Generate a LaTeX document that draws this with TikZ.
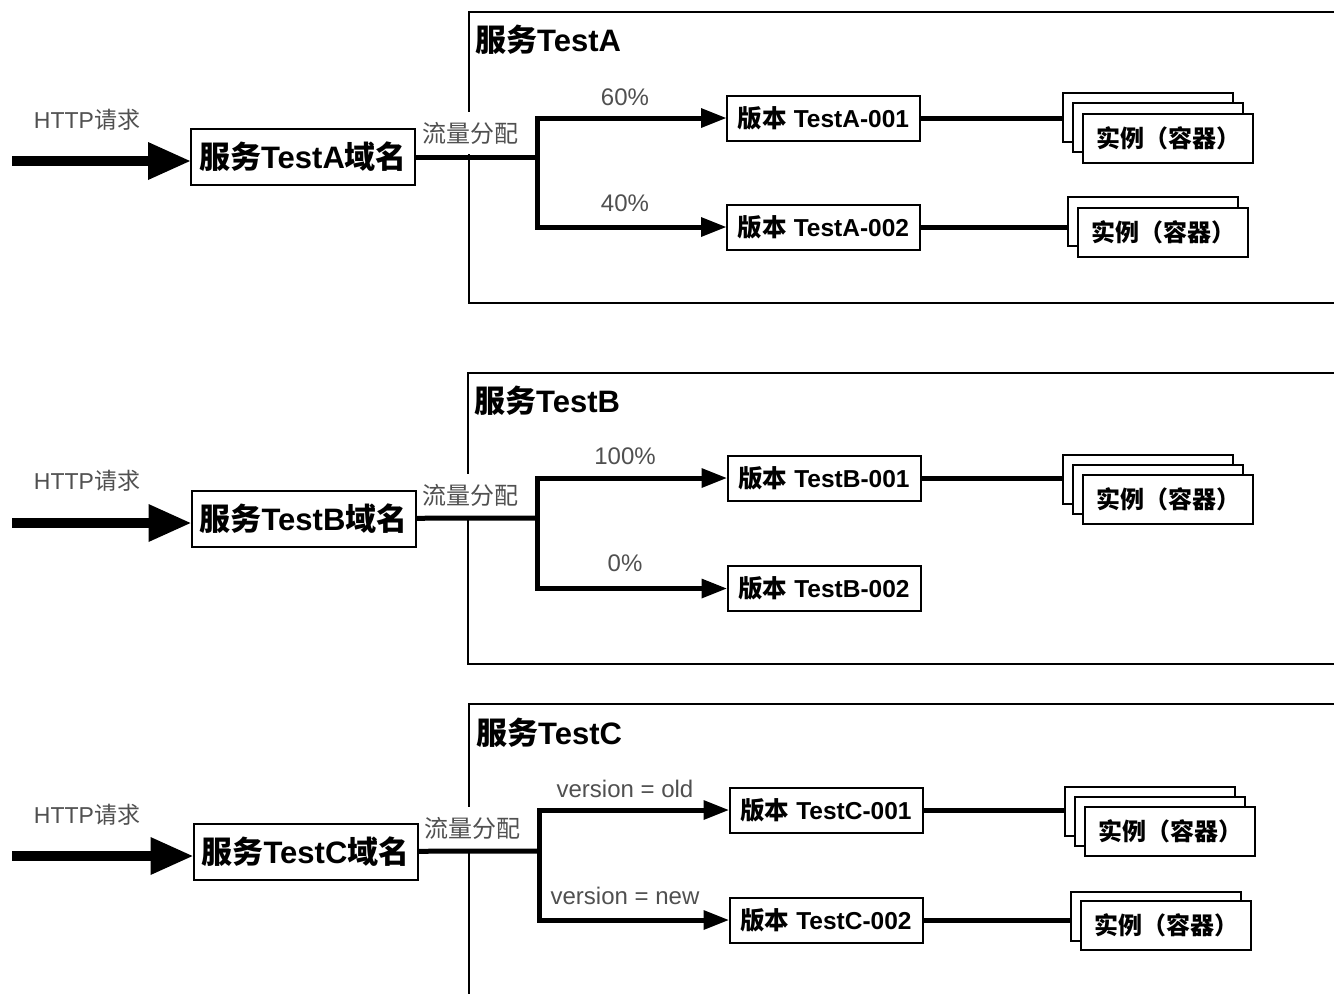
\documentclass[tikz,border=0pt]{standalone}
\usepackage{fontspec}
\setmainfont{Liberation Sans}
\newfontfamily\cjk{Noto Sans CJK SC}
\usetikzlibrary{arrows.meta}
\definecolor{lblgray}{RGB}{80,80,80}
\tikzset{
  svcframe/.style={line width=2pt},
  svctitle/.style={anchor=west, inner sep=0pt, font=\fontsize{31}{36}\selectfont\bfseries},
  reqlabel/.style={text=lblgray, inner sep=0pt, font=\fontsize{23}{26}\selectfont},
  dombox/.style={draw, fill=white, line width=2pt, minimum width=224pt, minimum height=56pt, inner sep=0pt, font=\fontsize{31}{36}\selectfont\bfseries},
  splitlabel/.style={fill=white, text=lblgray, inner sep=0pt, minimum height=42pt, font=\fontsize{24}{26}\selectfont\cjk},
  pctlabel/.style={text=lblgray, inner sep=0pt, font=\fontsize{24}{26}\selectfont},
  verbox/.style={draw, fill=white, line width=2pt, minimum width=193pt, minimum height=45pt, inner sep=0pt, font=\fontsize{24.5}{28}\selectfont\bfseries},
  instbox/.style={draw, fill=white, line width=2pt, minimum width=170pt, minimum height=49pt, inner sep=0pt, font=\fontsize{24}{28}\selectfont\bfseries\cjk},
  bigarrow/.style={line width=10pt, -{Triangle[length=42pt,width=38pt,line width=0pt]}},
  flow/.style={line width=5pt},
  flowarrow/.style={line width=5pt, -{Triangle[length=25pt,width=20pt,line width=0pt]}},
}
\begin{document}
\begin{tikzpicture}[x=1pt,y=-1pt]
\useasboundingbox[fill=white] (0,0) rectangle (1334,994);

% service TestA
\draw[svcframe] (1334,12) -- (469,12) -- (469,303) -- (1334,303);
\node[svctitle] (titA) at (475,40) {{\cjk 服务}TestA};
\node[reqlabel] (reqA) at (87,120) {HTTP{\cjk 请求}};
\node[dombox] (domA) at (303,157) {{\cjk 服务}TestA{\cjk 域名}};
\coordinate (inA) at (12,161);
\draw[bigarrow] (inA) -- (inA -| domA.west);
\node[splitlabel] (splA) at (470,133) {流量分配};
\coordinate (jA) at (537,157);
\draw[flow] (domA) -- (jA);
\node[verbox] (vA1) at (823.5,118) {{\cjk 版本} TestA-001};
\node[verbox] (vA2) at (823.5,227) {{\cjk 版本} TestA-002};
\draw[flowarrow] (jA) |- (vA1);
\draw[flowarrow] (jA) |- (vA2);
\node[pctlabel] (pA1) at (625,97) {60\%};
\node[pctlabel] (pA2) at (625,203) {40\%};
\node[instbox] (iA1a) at (1148,117.5) {};
\node[instbox] (iA1b) at (1158,127.5) {};
\node[instbox] (iA1c) at (1168,138) {实例（容器）};
\draw[flow] (vA1) -- (vA1 -| iA1a.west);
\node[instbox] (iA2a) at (1153,221.5) {};
\node[instbox] (iA2b) at (1163,232) {实例（容器）};
\draw[flow] (vA2) -- (vA2 -| iA2a.west);

% service TestB
\draw[svcframe] (1334,373) -- (468,373) -- (468,664) -- (1334,664);
\node[svctitle] (titB) at (474,401) {{\cjk 服务}TestB};
\node[reqlabel] (reqB) at (87,481) {HTTP{\cjk 请求}};
\node[dombox] (domB) at (303.5,518.5) {{\cjk 服务}TestB{\cjk 域名}};
\coordinate (inB) at (12,523);
\draw[bigarrow] (inB) -- (inB -| domB.west);
\node[splitlabel] (splB) at (470,495) {流量分配};
\coordinate (jB) at (537,518);
\draw[flow] (domB) -- (jB);
\node[verbox] (vB1) at (824,478) {{\cjk 版本} TestB-001};
\node[verbox] (vB2) at (824,588.5) {{\cjk 版本} TestB-002};
\draw[flowarrow] (jB) |- (vB1);
\draw[flowarrow] (jB) |- (vB2);
\node[pctlabel] (pB1) at (625,456) {100\%};
\node[pctlabel] (pB2) at (625,563) {0\%};
\node[instbox] (iB1a) at (1148,479.5) {};
\node[instbox] (iB1b) at (1158,489.5) {};
\node[instbox] (iB1c) at (1168,499.5) {实例（容器）};
\draw[flow] (vB1) -- (vB1 -| iB1a.west);

% service TestC
\draw[svcframe] (1334,704) -- (469,704) -- (469,994);
\node[svctitle] (titC) at (476,733) {{\cjk 服务}TestC};
\node[reqlabel] (reqC) at (87,815) {HTTP{\cjk 请求}};
\node[dombox] (domC) at (305.5,851.5) {{\cjk 服务}TestC{\cjk 域名}};
\coordinate (inC) at (12,856);
\draw[bigarrow] (inC) -- (inC -| domC.west);
\node[splitlabel] (splC) at (472,828) {流量分配};
\coordinate (jC) at (539,851);
\draw[flow] (domC) -- (jC);
\node[verbox] (vC1) at (826,810) {{\cjk 版本} TestC-001};
\node[verbox] (vC2) at (826,920) {{\cjk 版本} TestC-002};
\draw[flowarrow] (jC) |- (vC1);
\draw[flowarrow] (jC) |- (vC2);
\node[pctlabel] (pC1) at (625,789) {version = old};
\node[pctlabel] (pC2) at (625,896) {version = new};
\node[instbox] (iC1a) at (1150,811) {};
\node[instbox] (iC1b) at (1160,821) {};
\node[instbox] (iC1c) at (1170,831.5) {实例（容器）};
\draw[flow] (vC1) -- (vC1 -| iC1a.west);
\node[instbox] (iC2a) at (1156,916) {};
\node[instbox] (iC2b) at (1166,925.5) {实例（容器）};
\draw[flow] (vC2) -- (vC2 -| iC2a.west);
\end{tikzpicture}
\end{document}
